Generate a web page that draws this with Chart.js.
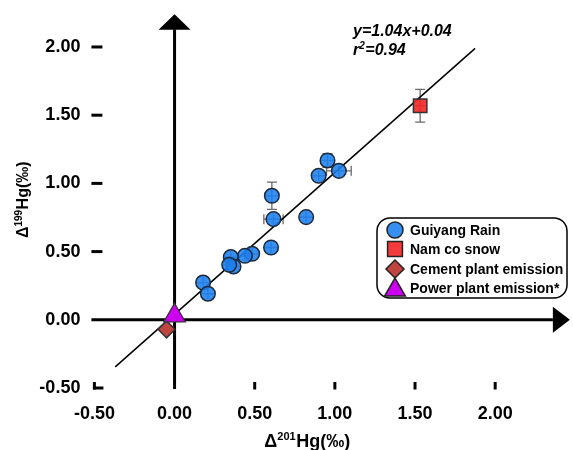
<!DOCTYPE html>
<html><head><meta charset="utf-8">
<script src="https://cdn.jsdelivr.net/npm/chart.js@4.4.1/dist/chart.umd.min.js"></script>
<style>html,body{margin:0;padding:0;background:#fff;overflow:hidden}</style>
</head><body>
<canvas id="c" width="573" height="450" style="display:block;width:573px;height:450px"></canvas>
<script>
// ---------- data ----------
const xTickValues = [-0.5, 0, 0.5, 1, 1.5, 2];
const yTickValues = [-0.5, 0, 0.5, 1, 1.5, 2];
const seriesNames = ['Guiyang Rain', 'Nam co snow', 'Cement plant emission', 'Power plant emission*'];

const rainX    = [0.954, 1.025, 0.899, 0.607, 0.617, 0.821, 0.602, 0.484, 0.439, 0.351, 0.368, 0.341, 0.178, 0.208];
const rainY    = [1.168, 1.092, 1.056, 0.909, 0.738, 0.753, 0.530, 0.484, 0.469, 0.460, 0.391, 0.403, 0.273, 0.191];
const rainXErr = [0.04, 0.077, 0.04, 0.04, 0.06, 0.04, 0.04, 0.04, 0.04, 0.04, 0.04, 0.04, 0.04, 0.04];
const rainYErr = [0.05, 0.04, 0.04, 0.10, 0.04, 0.04, 0.04, 0.04, 0.04, 0.04, 0.04, 0.04, 0.04, 0.04];

const snowX = [1.532];
const snowY = [1.569];
const snowXErr = [0.03];
const snowYErr = [0.12];

const cementX = [-0.05];
const cementY = [-0.07];

const powerX = [0.0];
const powerY = [0.03];

const fitX = [-0.37, 1.875];
const fitY = [-0.345, 1.99];

// text pieces: [normal, superscript, normal]
const eqLine1 = ['y=1.04x+0.04'];
const eqLine2 = ['r', '2', '=0.94'];
const xTitleParts = ['Δ', '201', 'Hg(‰)'];
const yTitleParts = ['Δ', '199', 'Hg(‰)'];

// ---------- build ----------
const FONT = '"Liberation Sans", Arial, Helvetica, sans-serif';
const pts = (xs, ys) => xs.map((v, i) => ({x: v, y: ys[i]}));

const errorSets = [
  {xs: rainX, ys: rainY, xe: rainXErr, ye: rainYErr},
  {xs: snowX, ys: snowY, xe: snowXErr, ye: snowYErr}
];

// draws [normal, sup, normal, ...] alternating, baseline at y, starting/centered on x
function drawSupText(ctx, parts, x, y, size, style, align) {
  const big = style + ' ' + size + 'px ' + FONT;
  const small = style + ' ' + Math.round(size * 0.6) + 'px ' + FONT;
  let total = 0;
  const widths = parts.map((t, i) => { ctx.font = (i % 2) ? small : big; const w = ctx.measureText(t).width; total += w; return w; });
  let cx = align === 'center' ? x - total / 2 : x;
  ctx.textAlign = 'left'; ctx.textBaseline = 'alphabetic';
  parts.forEach((t, i) => {
    ctx.font = (i % 2) ? small : big;
    ctx.fillText(t, cx, (i % 2) ? y - size * 0.38 : y);
    cx += widths[i] + ((i % 2) ? 0.5 : 0);
  });
}

function drawMarker(ctx, style, x, y, r, fill, stroke) {
  ctx.save();
  ctx.fillStyle = fill; ctx.strokeStyle = stroke; ctx.lineWidth = 1.5;
  ctx.beginPath();
  if (style === 'circle') {
    ctx.arc(x, y, r, 0, Math.PI * 2);
  } else if (style === 'rect') {
    const s = r * Math.SQRT1_2;
    ctx.rect(x - s, y - s, 2 * s, 2 * s);
  } else if (style === 'rectRot') {
    ctx.moveTo(x, y - r); ctx.lineTo(x + r, y); ctx.lineTo(x, y + r); ctx.lineTo(x - r, y); ctx.closePath();
  } else if (style === 'triangle') {
    ctx.moveTo(x, y - r);
    ctx.lineTo(x + r * 0.866, y + r * 0.5);
    ctx.lineTo(x - r * 0.866, y + r * 0.5);
    ctx.closePath();
  }
  ctx.fill(); ctx.stroke();
  ctx.restore();
}

const decor = {
  id: 'decor',
  beforeDatasetsDraw(chart) {
    const {ctx, scales: {x, y}} = chart;
    const X = v => x.getPixelForValue(v), Y = v => y.getPixelForValue(v);
    ctx.save();
    ctx.strokeStyle = '#000'; ctx.fillStyle = '#000'; ctx.lineWidth = 3; ctx.lineCap = 'butt';
    const x0 = X(0), y0 = Y(0), xl = X(-0.5), yb = Y(-0.5);
    // horizontal axis with arrow
    const xr = X(2.36);
    ctx.beginPath(); ctx.moveTo(xl - 3, y0); ctx.lineTo(xr, y0); ctx.stroke();
    ctx.beginPath(); ctx.moveTo(xr, y0 - 13); ctx.lineTo(xr + 17, y0); ctx.lineTo(xr, y0 + 13); ctx.closePath(); ctx.fill();
    // vertical axis with arrow
    const yt = Y(2.13);
    ctx.beginPath(); ctx.moveTo(x0, yb + 1); ctx.lineTo(x0, yt); ctx.stroke();
    ctx.beginPath(); ctx.moveTo(x0 - 16, yt + 0.5); ctx.lineTo(x0, yt - 15); ctx.lineTo(x0 + 16, yt + 0.5); ctx.closePath(); ctx.fill();
    // y tick dashes
    yTickValues.forEach(v => {
      if (v === 0) return;
      const py = Y(v);
      ctx.beginPath();
      if (v === -0.5) { ctx.moveTo(xl - 1.5, py); ctx.lineTo(xl + 9, py); }
      else { ctx.moveTo(xl - 3, py); ctx.lineTo(xl + 8, py); }
      ctx.stroke();
    });
    // x tick dashes
    xTickValues.forEach(v => {
      if (v === 0) return;
      const px = X(v);
      ctx.beginPath(); ctx.moveTo(px, yb + 1.5); ctx.lineTo(px, yb - 6); ctx.stroke();
    });
    // error bars
    ctx.strokeStyle = '#6a6a6a'; ctx.lineWidth = 1.3;
    errorSets.forEach(s => {
      s.xs.forEach((xv, i) => {
        const px = X(xv), py = Y(s.ys[i]);
        const xa = X(xv - s.xe[i]), xb = X(xv + s.xe[i]);
        const ya = Y(s.ys[i] - s.ye[i]), yb2 = Y(s.ys[i] + s.ye[i]);
        ctx.beginPath();
        ctx.moveTo(xa, py); ctx.lineTo(xb, py);
        ctx.moveTo(px, ya); ctx.lineTo(px, yb2);
        if (s.xe[i] > 0.045) { ctx.moveTo(xa, py - 5); ctx.lineTo(xa, py + 5); ctx.moveTo(xb, py - 5); ctx.lineTo(xb, py + 5); }
        if (s.ye[i] > 0.045) { ctx.moveTo(px - 5, ya); ctx.lineTo(px + 5, ya); ctx.moveTo(px - 5, yb2); ctx.lineTo(px + 5, yb2); }
        ctx.stroke();
      });
    });
    ctx.restore();
  },
  afterDraw(chart) {
    const {ctx} = chart;
    ctx.save();
    ctx.fillStyle = '#000';
    // axis titles
    drawSupText(ctx, xTitleParts, 307, 447, 18, 'bold', 'center');
    ctx.save();
    ctx.translate(28, 200); ctx.rotate(-Math.PI / 2);
    drawSupText(ctx, yTitleParts, 0, 0, 16, 'bold', 'center');
    ctx.restore();
    // equation
    drawSupText(ctx, eqLine1, 353, 36, 16, 'italic bold', 'left');
    drawSupText(ctx, eqLine2, 353, 55, 16, 'italic bold', 'left');
    // legend
    const bx = 377, by = 218, bw = 190, bh = 80, rr = 13;
    ctx.beginPath();
    ctx.moveTo(bx + rr, by); ctx.lineTo(bx + bw - rr, by); ctx.arcTo(bx + bw, by, bx + bw, by + rr, rr);
    ctx.lineTo(bx + bw, by + bh - rr); ctx.arcTo(bx + bw, by + bh, bx + bw - rr, by + bh, rr);
    ctx.lineTo(bx + rr, by + bh); ctx.arcTo(bx, by + bh, bx, by + bh - rr, rr);
    ctx.lineTo(bx, by + rr); ctx.arcTo(bx, by, bx + rr, by, rr); ctx.closePath();
    ctx.fillStyle = '#fff'; ctx.fill();
    ctx.strokeStyle = '#000'; ctx.lineWidth = 1.5; ctx.stroke();
    const rows = [230, 249, 269, 288];
    const ds = chart.data.datasets;
    const legendR = [8, 10.5, 9, 12];
    for (let i = 0; i < 4; i++) {
      const d = ds[i];
      drawMarker(ctx, d.pointStyle, 395, rows[i] + (d.pointStyle === 'triangle' ? 2 : 0), legendR[i], d.pointBackgroundColor, '#222');
      ctx.fillStyle = '#000';
      ctx.font = 'bold 14px ' + FONT;
      ctx.textBaseline = 'middle'; ctx.textAlign = 'left';
      ctx.fillText(seriesNames[i], 410, rows[i] + 1);
    }
    ctx.restore();
  }
};

const chart = new Chart(document.getElementById('c'), {
  type: 'scatter',
  data: {
    datasets: [
      {label: seriesNames[0], data: pts(rainX, rainY), pointStyle: 'circle', pointRadius: 7.3, pointHoverRadius: 7.3,
       pointBackgroundColor: 'rgba(28,128,240,0.88)', pointBorderColor: '#1e2a3a', pointBorderWidth: 1.5, order: 1},
      {label: seriesNames[1], data: pts(snowX, snowY), pointStyle: 'rect', pointRadius: 9.5, pointHoverRadius: 9.5,
       pointBackgroundColor: 'rgba(242,38,38,0.9)', pointBorderColor: '#333', pointBorderWidth: 1.5, order: 1},
      {label: seriesNames[2], data: pts(cementX, cementY), pointStyle: 'rectRot', pointRadius: 8.5, pointHoverRadius: 8.5,
       pointBackgroundColor: '#c0453f', pointBorderColor: '#333', pointBorderWidth: 1.5, order: 1},
      {label: seriesNames[3], data: pts(powerX, powerY), pointStyle: 'triangle', pointRadius: 12.5, pointHoverRadius: 12.5,
       pointBackgroundColor: '#cc00ee', pointBorderColor: '#333', pointBorderWidth: 1.2, order: 0},
      {label: 'fit', type: 'line', data: pts(fitX, fitY), borderColor: '#000', borderWidth: 1.5,
       pointRadius: 0, fill: false, order: 10}
    ]
  },
  options: {
    responsive: false, animation: false, devicePixelRatio: 1,
    layout: {padding: {left: 0, right: 5.3, top: 19.7, bottom: 0}},
    plugins: {legend: {display: false}, tooltip: {enabled: false}},
    scales: {
      x: {
        type: 'linear', min: -0.5, max: 2.4,
        afterBuildTicks: s => { s.ticks = xTickValues.map(v => ({value: v})); },
        afterFit: s => { s.height = 62; s.paddingLeft = 0; s.paddingRight = 0; s.paddingTop = 0; s.paddingBottom = 0; },
        grid: {display: false, drawTicks: false}, border: {display: false},
        ticks: {autoSkip: false, maxRotation: 0, padding: 15, color: '#000',
                font: {family: FONT, size: 18, weight: 'bold'}, callback: v => Number(v).toFixed(2)}
      },
      y: {
        type: 'linear', min: -0.5, max: 2.2,
        afterBuildTicks: s => { s.ticks = yTickValues.map(v => ({value: v})); },
        afterFit: s => { s.width = 94.4; s.paddingLeft = 0; s.paddingRight = 0; s.paddingTop = 0; s.paddingBottom = 0; },
        grid: {display: false, drawTicks: false}, border: {display: false},
        ticks: {autoSkip: false, padding: 14, color: '#000',
                font: {family: FONT, size: 18, weight: 'bold'}, callback: v => Number(v).toFixed(2)}
      }
    }
  },
  plugins: [decor]
});
</script>
</body></html>
